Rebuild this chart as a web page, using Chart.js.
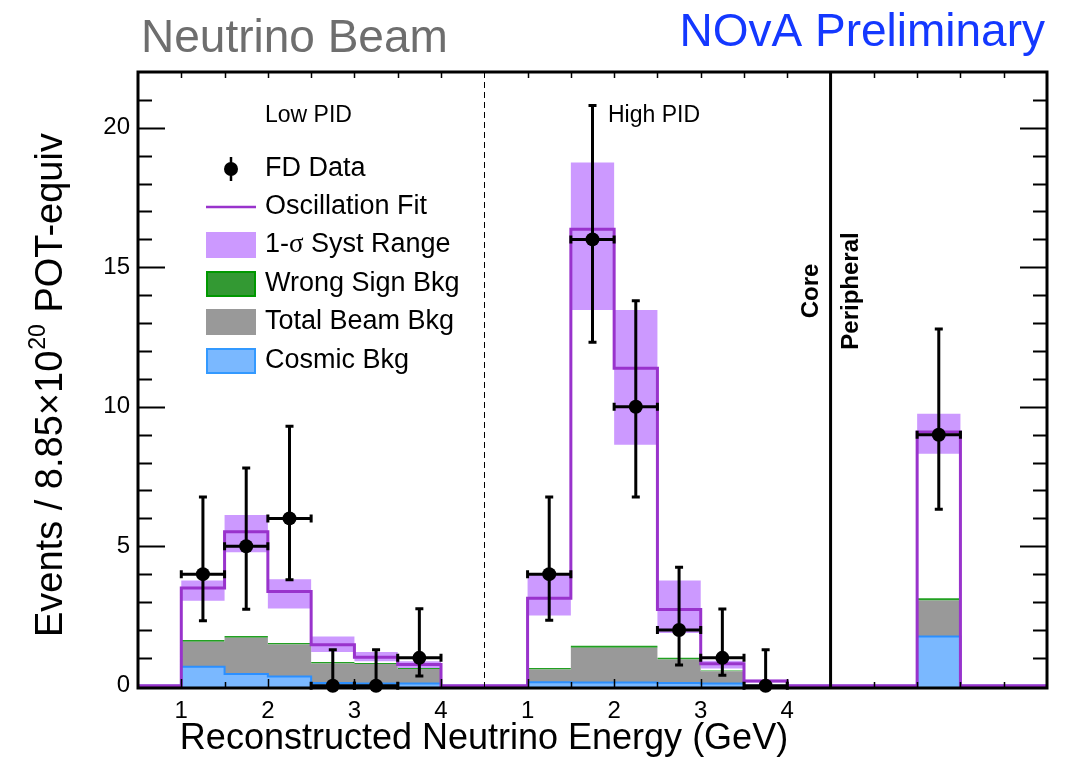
<!DOCTYPE html>
<html>
<head>
<meta charset="utf-8">
<title>NOvA neutrino beam spectrum</title>
<script src="https://cdn.jsdelivr.net/npm/chart.js@4.4.1/dist/chart.umd.min.js"></script>
<style>
  html, body { margin: 0; padding: 0; background: #fff; }
  #wrap { width: 1072px; height: 759px; }
</style>
</head>
<body>
<div id="wrap"><canvas id="myChart" width="1072" height="759"></canvas></div>
<script>
// bins are 0.5 GeV wide: 0-7 Low PID (0.5-4.5 GeV), 8-15 High PID, 16-20 Peripheral
const binEdges = [0, 1, 2, 3, 4, 5, 6, 7, 8, 9, 10, 11, 12, 13, 14, 15, 16, 17, 18, 19, 20, 21];

const fitPred   = [0, 3.50, 5.52, 3.38, 1.47, 1.02, 0.76, 0,   0, 3.14, 16.36, 11.38, 2.73, 0.79, 0.17, 0,   0, 0, 9.10, 0, 0];
const systHigh  = [0, 3.77, 6.12, 3.82, 1.77, 1.21, 0.88, 0,   0, 3.98, 18.76, 13.47, 3.77, 0.90, 0.22, 0,   0, 0, 9.75, 0, 0];
const systLow   = [0, 3.05, 4.79, 2.77, 1.21, 0.88, 0.64, 0,   0, 2.52, 13.47, 8.64, 1.89, 0.62, 0.12, 0,   0, 0, 8.32, 0, 0];
const beamBkg   = [0, 1.58, 1.72, 1.48, 0.80, 0.78, 0.60, 0,   0, 0.58, 1.36, 1.36, 0.94, 0.52, 0.03, 0,   0, 0, 3.06, 0, 0];
const wrongSign = [0, 0.06, 0.06, 0.05, 0.05, 0.04, 0.04, 0,   0, 0.06, 0.07, 0.07, 0.06, 0.03, 0,    0,   0, 0, 0.08, 0, 0];
const cosmicBkg = [0, 0.68, 0.42, 0.33, 0.10, 0.08, 0.08, 0,   0, 0.13, 0.12, 0.12, 0.10, 0.08, 0,    0,   0, 0, 1.77, 0, 0];

const dataCounts = [null, 4, 5, 6, 0, 0, 1, null,   null, 4, 16, 10, 2, 1, 0, null,   null, null, 9, null, null];
const dataErrLow = [null, 2.33, 2.74, 3.80, 0, 0, 0.35, null,   null, 2.35, 12.31, 6.77, 0.74, 0.38, 0, null,   null, null, 6.33, null, null];
const dataErrHigh = [null, 6.77, 7.81, 9.30, 1.29, 1.29, 2.76, null,   null, 6.77, 20.80, 13.80, 4.25, 2.75, 1.29, null,   null, null, 12.79, null, null];

const xTickPositions = [1, 3, 5, 7, 9, 11, 13, 15];
const xTickLabels = ['1', '2', '3', '4', '1', '2', '3', '4'];
const yTickValues = [0, 5, 10, 15, 20];

const FONT = '"Liberation Sans", Arial, Helvetica, sans-serif';
const PURPLE = '#9933cc';
const BAND = '#cc99ff';

function steps(vals) {
    const pts = vals.map((v, i) => ({ x: binEdges[i], y: v }));
    pts.push({ x: binEdges[vals.length], y: vals[vals.length - 1] });
    return pts;
}

const wsTop = beamBkg.map((v, i) => v + wrongSign[i]);
const dataPoints = [];
dataCounts.forEach((c, i) => {
    if (c !== null) dataPoints.push({ x: (binEdges[i] + binEdges[i + 1]) / 2, y: c });
});

const histBase = { stepped: true, pointRadius: 0, borderWidth: 0, borderColor: 'rgba(0,0,0,0)', showLine: true };

const frameAndMarks = {
    id: 'frameAndMarks',
    afterDatasetsDraw(chart) {
        const ctx = chart.ctx;
        const a = chart.chartArea;
        const xs = chart.scales.x, ys = chart.scales.y;
        ctx.save();
        ctx.strokeStyle = '#000';

        // ticks on y (left and right)
        ctx.lineWidth = 2;
        for (let v = 1; v <= 21; v++) {
            const y = Math.round(ys.getPixelForValue(v)) + 0.5;
            const len = v % 5 === 0 ? 27 : 14;
            ctx.beginPath();
            ctx.moveTo(a.left, y); ctx.lineTo(a.left + len, y);
            ctx.moveTo(a.right, y); ctx.lineTo(a.right - len, y);
            ctx.stroke();
        }
        // ticks on x (bottom and top)
        ctx.lineWidth = 1.5;
        for (let e = 1; e < 21; e++) {
            if (e === 8 || e === 16) continue;
            const x = Math.round(xs.getPixelForValue(e)) + 0.5;
            const len = (e < 16 && e % 2 === 1) ? 9 : 6;
            ctx.beginPath();
            ctx.moveTo(x, a.bottom); ctx.lineTo(x, a.bottom - len);
            ctx.moveTo(x, a.top); ctx.lineTo(x, a.top + 6);
            ctx.stroke();
        }

        // region separators
        const xd = Math.round(xs.getPixelForValue(8)) + 0.5;
        ctx.lineWidth = 1;
        ctx.setLineDash([6, 4]);
        ctx.beginPath(); ctx.moveTo(xd, a.top); ctx.lineTo(xd, a.bottom); ctx.stroke();
        ctx.setLineDash([]);
        const xc = xs.getPixelForValue(16);
        ctx.lineWidth = 3;
        ctx.beginPath(); ctx.moveTo(xc, a.top); ctx.lineTo(xc, a.bottom); ctx.stroke();

        // frame
        ctx.lineWidth = 3;
        ctx.strokeRect(a.left, a.top, a.right - a.left, a.bottom - a.top);

        // data error bars
        ctx.lineWidth = 3;
        dataCounts.forEach((c, i) => {
            if (c === null) return;
            const x0 = xs.getPixelForValue(binEdges[i]);
            const x1 = xs.getPixelForValue(binEdges[i + 1]);
            const xm = (x0 + x1) / 2;
            const y = ys.getPixelForValue(c);
            const yl = ys.getPixelForValue(dataErrLow[i]);
            const yh = ys.getPixelForValue(dataErrHigh[i]);
            ctx.beginPath();
            ctx.moveTo(x0, y); ctx.lineTo(x1, y);
            ctx.moveTo(x0, y - 4); ctx.lineTo(x0, y + 4);
            ctx.moveTo(x1, y - 4); ctx.lineTo(x1, y + 4);
            ctx.moveTo(xm, yh); ctx.lineTo(xm, yl);
            ctx.moveTo(xm - 4, yh); ctx.lineTo(xm + 4, yh);
            if (dataErrLow[i] > 0) { ctx.moveTo(xm - 4, yl); ctx.lineTo(xm + 4, yl); }
            ctx.stroke();
        });
        ctx.restore();
    },
    afterDraw(chart) {
        const ctx = chart.ctx;
        ctx.save();
        ctx.textBaseline = 'alphabetic';

        // headers
        ctx.font = '46px ' + FONT;
        ctx.fillStyle = '#6e6e6e';
        ctx.textAlign = 'left';
        ctx.fillText('Neutrino Beam', 141, 52);
        ctx.font = '46px ' + FONT;
        ctx.fillStyle = '#1438ff';
        ctx.textAlign = 'right';
        ctx.fillText('NOvA Preliminary', 1045, 46);

        // x title
        ctx.fillStyle = '#000';
        ctx.font = '36px ' + FONT;
        ctx.textAlign = 'center';
        ctx.fillText('Reconstructed Neutrino Energy (GeV)', 484, 749);

        // y title with superscript
        ctx.save();
        ctx.translate(62, 637);
        ctx.rotate(-Math.PI / 2);
        ctx.textAlign = 'left';
        ctx.font = '38px ' + FONT;
        const p1 = 'Events / 8.85\u00d710';
        ctx.fillText(p1, 0, 0);
        const w1 = ctx.measureText(p1).width;
        ctx.font = '23px ' + FONT;
        ctx.fillText('20', w1 + 1, -17);
        const w2 = ctx.measureText('20').width;
        ctx.font = '38px ' + FONT;
        ctx.fillText(' POT-equiv', w1 + w2 + 2, 0);
        ctx.restore();

        // region labels
        ctx.font = '23px ' + FONT;
        ctx.textAlign = 'left';
        ctx.fillText('Low PID', 265, 122);
        ctx.fillText('High PID', 608, 122);
        ctx.font = 'bold 24px ' + FONT;
        ctx.textAlign = 'center';
        [['Core', 818], ['Peripheral', 858]].forEach(([t, x]) => {
            ctx.save();
            ctx.translate(x, 291);
            ctx.rotate(-Math.PI / 2);
            ctx.fillText(t, 0, 0);
            ctx.restore();
        });

        // legend
        const rows = [169, 207, 245, 284, 322, 361];
        ctx.font = '27px ' + FONT;
        ctx.textAlign = 'left';
        ctx.textBaseline = 'middle';
        ctx.strokeStyle = '#000';
        ctx.lineWidth = 2.5;
        ctx.beginPath(); ctx.moveTo(231, 157); ctx.lineTo(231, 181); ctx.stroke();
        ctx.beginPath(); ctx.arc(231, 169, 7, 0, Math.PI * 2); ctx.fill();
        ctx.fillText('FD Data', 265, rows[0]);

        ctx.strokeStyle = PURPLE;
        ctx.lineWidth = 2.5;
        ctx.beginPath(); ctx.moveTo(206, rows[1]); ctx.lineTo(256, rows[1]); ctx.stroke();
        ctx.fillText('Oscillation Fit', 265, rows[1]);

        const box = (y, fill, stroke) => {
            ctx.fillStyle = fill;
            ctx.fillRect(206, y - 13, 50, 26);
            if (stroke) {
                ctx.strokeStyle = stroke;
                ctx.lineWidth = 2;
                ctx.strokeRect(207, y - 12, 48, 24);
            }
            ctx.fillStyle = '#000';
        };
        box(rows[2], BAND, null);
        let x = 265;
        ctx.fillText('1-', x, rows[2]);
        x += ctx.measureText('1-').width;
        ctx.font = '27px "Liberation Serif", "Times New Roman", serif';
        ctx.fillText('\u03c3', x, rows[2]);
        x += ctx.measureText('\u03c3').width;
        ctx.font = '27px ' + FONT;
        ctx.fillText(' Syst Range', x, rows[2]);

        box(rows[3], '#339933', '#009900');
        ctx.fillText('Wrong Sign Bkg', 265, rows[3]);
        box(rows[4], '#999999', '#999999');
        ctx.fillText('Total Beam Bkg', 265, rows[4]);
        box(rows[5], '#7ab8ff', '#3399ff');
        ctx.fillText('Cosmic Bkg', 265, rows[5]);

        ctx.restore();
    }
};

const config = {
    type: 'line',
    data: {
        datasets: [
            { ...histBase, label: 'Oscillation Fit', data: steps(fitPred), borderColor: PURPLE, borderWidth: 3, fill: false, order: 1 },
            { ...histBase, label: '1-sigma Syst Range', data: steps(systHigh), backgroundColor: BAND, fill: 2, order: 6 },
            { ...histBase, label: 'syst low', data: steps(systLow), fill: false, order: 6 },
            { ...histBase, label: 'Wrong Sign Bkg', data: steps(wsTop), backgroundColor: '#22a022', fill: 4, order: 5 },
            { ...histBase, label: 'Total Beam Bkg', data: steps(beamBkg), backgroundColor: '#999999', fill: 'start', order: 4 },
            { ...histBase, label: 'Cosmic Bkg', data: steps(cosmicBkg), borderColor: '#2b8fff', borderWidth: 2, backgroundColor: '#7ab8ff', fill: 'start', order: 3 },
            { label: 'FD Data', data: dataPoints, showLine: false, pointRadius: 7, pointBackgroundColor: '#000', pointBorderWidth: 0, clip: false, order: 0 }
        ]
    },
    options: {
        responsive: false,
        animation: false,
        devicePixelRatio: 1,
        layout: { padding: { top: 72, right: 25, left: 0, bottom: 0 } },
        plugins: { legend: { display: false }, tooltip: { enabled: false } },
        scales: {
            x: {
                type: 'linear', min: 0, max: 21,
                grid: { display: false, drawTicks: false },
                border: { display: false },
                afterBuildTicks: s => { s.ticks = xTickPositions.map(v => ({ value: v })); },
                afterFit: s => { s.height = 71; },
                ticks: {
                    autoSkip: false, maxRotation: 0, padding: 9, color: '#000',
                    font: { family: FONT, size: 24 },
                    callback: (v, i) => xTickLabels[i]
                }
            },
            y: {
                min: -0.08, max: 22,
                grid: { display: false, drawTicks: false },
                border: { display: false },
                afterBuildTicks: s => { s.ticks = yTickValues.map(v => ({ value: v })); },
                afterFit: s => { s.width = 138; },
                ticks: {
                    padding: 8, color: '#000',
                    font: { family: FONT, size: 24 },
                    callback: v => String(v)
                }
            }
        }
    },
    plugins: [frameAndMarks]
};

const myChart = new Chart(document.getElementById('myChart'), config);
</script>
</body>
</html>
